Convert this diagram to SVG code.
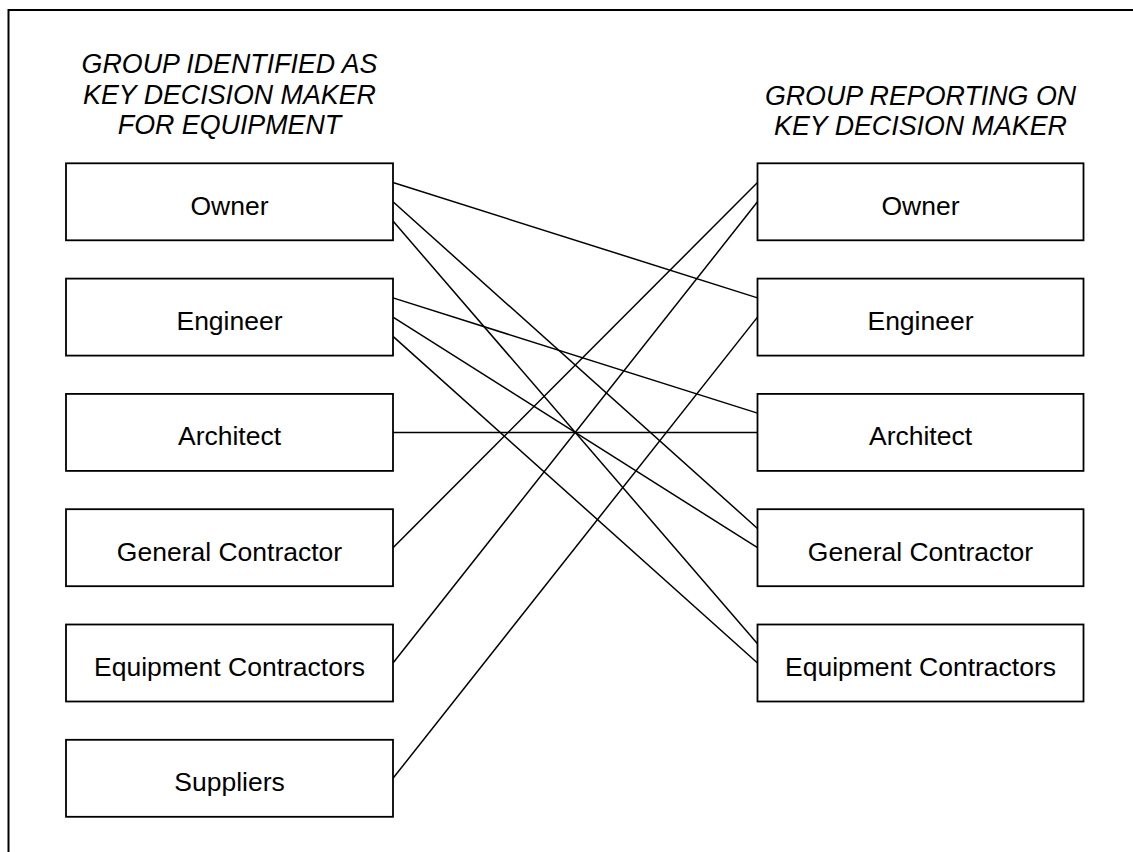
<svg xmlns="http://www.w3.org/2000/svg" width="1133" height="852" viewBox="0 0 1133 852">
  <style>
    .frame { fill: none; stroke: #000; stroke-width: 2; }
    .box { fill: #fff; stroke: #000; stroke-width: 1.8; }
    .label { font-family: "Liberation Sans", Arial, sans-serif; font-size: 26.5px; fill: #000; text-anchor: middle; }
    .head { font-family: "Liberation Sans", Arial, sans-serif; font-size: 26.8px; font-style: italic; fill: #000; text-anchor: middle; }
    .link { stroke: #000; stroke-width: 1.5; fill: none; }
  </style>
  <rect width="1133" height="852" fill="#fff"/>
  <!-- outer frame, running past the right and bottom edges -->
  <rect class="frame" x="8.5" y="10" width="1140" height="860"/>

  <!-- column headings -->
  <g id="heading-left">
    <text class="head" x="229.5" y="73">GROUP IDENTIFIED AS</text>
    <text class="head" x="229.5" y="103.5">KEY DECISION MAKER</text>
    <text class="head" x="229.5" y="134">FOR EQUIPMENT</text>
  </g>
  <g id="heading-right">
    <text class="head" x="920.5" y="104.5">GROUP REPORTING ON</text>
    <text class="head" x="920.5" y="134.5">KEY DECISION MAKER</text>
  </g>

  <!-- connectors -->
  <g id="connectors">
    <line class="link" x1="393" y1="182.55" x2="757.5" y2="297.85"/>
    <line class="link" x1="393" y1="201.8" x2="757.5" y2="528.45"/>
    <line class="link" x1="393" y1="221.05" x2="757.5" y2="643.75"/>
    <line class="link" x1="393" y1="297.85" x2="757.5" y2="413.15"/>
    <line class="link" x1="393" y1="317.1" x2="757.5" y2="547.7"/>
    <line class="link" x1="393" y1="336.35" x2="757.5" y2="663"/>
    <line class="link" x1="393" y1="432.4" x2="757.5" y2="432.4"/>
    <line class="link" x1="393" y1="547.7" x2="757.5" y2="182.55"/>
    <line class="link" x1="393" y1="663" x2="757.5" y2="201.8"/>
    <line class="link" x1="393" y1="778.3" x2="757.5" y2="317.1"/>
  </g>

  <!-- left column -->
  <g id="left-owner">
    <rect class="box" x="66" y="163.3" width="327" height="77"/>
    <text class="label" x="229.5" y="214.8">Owner</text>
  </g>
  <g id="left-engineer">
    <rect class="box" x="66" y="278.6" width="327" height="77"/>
    <text class="label" x="229.5" y="330.1">Engineer</text>
  </g>
  <g id="left-architect">
    <rect class="box" x="66" y="393.9" width="327" height="77"/>
    <text class="label" x="229.5" y="445.4">Architect</text>
  </g>
  <g id="left-general-contractor">
    <rect class="box" x="66" y="509.2" width="327" height="77"/>
    <text class="label" x="229.5" y="560.7">General Contractor</text>
  </g>
  <g id="left-equipment-contractors">
    <rect class="box" x="66" y="624.5" width="327" height="77"/>
    <text class="label" x="229.5" y="676">Equipment Contractors</text>
  </g>
  <g id="left-suppliers">
    <rect class="box" x="66" y="739.8" width="327" height="77"/>
    <text class="label" x="229.5" y="791.3">Suppliers</text>
  </g>

  <!-- right column -->
  <g id="right-owner">
    <rect class="box" x="757.5" y="163.3" width="326" height="77"/>
    <text class="label" x="920.5" y="214.8">Owner</text>
  </g>
  <g id="right-engineer">
    <rect class="box" x="757.5" y="278.6" width="326" height="77"/>
    <text class="label" x="920.5" y="330.1">Engineer</text>
  </g>
  <g id="right-architect">
    <rect class="box" x="757.5" y="393.9" width="326" height="77"/>
    <text class="label" x="920.5" y="445.4">Architect</text>
  </g>
  <g id="right-general-contractor">
    <rect class="box" x="757.5" y="509.2" width="326" height="77"/>
    <text class="label" x="920.5" y="560.7">General Contractor</text>
  </g>
  <g id="right-equipment-contractors">
    <rect class="box" x="757.5" y="624.5" width="326" height="77"/>
    <text class="label" x="920.5" y="676">Equipment Contractors</text>
  </g>
</svg>
